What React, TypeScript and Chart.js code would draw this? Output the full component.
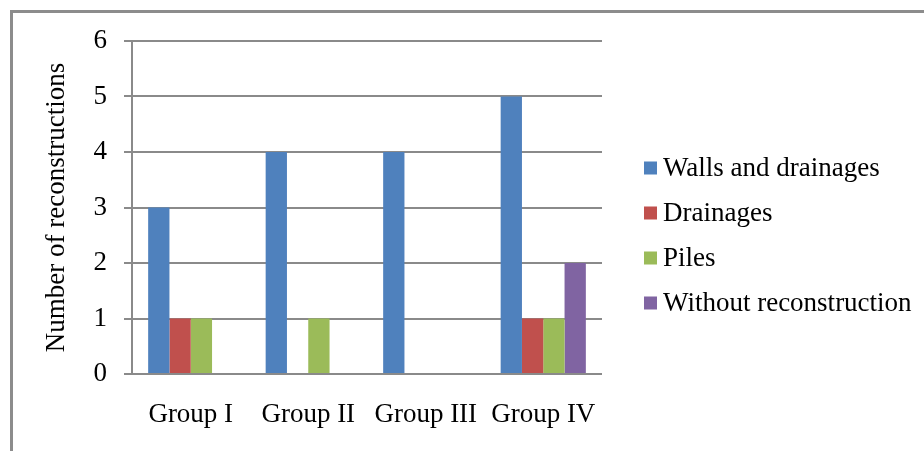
import React, { useEffect, useRef } from "react";
import { Chart, registerables } from "chart.js";

Chart.register(...registerables);

const categories = ["Group I", "Group II", "Group III", "Group IV"];
const seriesNames = ["Walls and drainages", "Drainages", "Piles", "Without reconstruction"];
const wallsAndDrainages = [3, 4, 4, 5];
const drainages = [1, 0, 0, 1];
const piles = [1, 1, 0, 1];
const withoutReconstruction = [0, 0, 0, 2];
const seriesColors = ["#4F81BD", "#C0504D", "#9BBB59", "#8064A2"];
const yTicks = [0, 1, 2, 3, 4, 5, 6];

const FONT = "'Liberation Serif', 'Times New Roman', serif";
const FS = 27;

const framePlugin = {
  id: "frame",
  beforeDraw(chart: any) {
    const ctx = chart.ctx;
    ctx.save();
    ctx.fillStyle = "#ffffff";
    ctx.fillRect(0, 0, chart.width, chart.height);
    ctx.fillStyle = "#8c8c8c";
    ctx.fillRect(10, 10, 3, chart.height - 10);
    ctx.fillRect(10, 10, chart.width - 10, 3);
    ctx.restore();
  },
};

const legendPlugin = {
  id: "customLegend",
  afterDraw(chart: any) {
    const ctx = chart.ctx;
    ctx.save();
    ctx.font = `${FS}px ${FONT}`;
    ctx.textBaseline = "middle";
    ctx.textAlign = "left";
    chart.data.datasets.forEach((ds: any, i: number) => {
      const y = 168 + i * 45;
      ctx.fillStyle = ds.backgroundColor;
      ctx.fillRect(644, y - 6.5, 13, 13);
      ctx.fillStyle = "#000000";
      ctx.fillText(ds.label, 663, y + 1);
    });
    ctx.restore();
  },
};

export default function App() {
  const ref = useRef<HTMLCanvasElement>(null);
  useEffect(() => {
    document.body.style.margin = "0";
    const series = [wallsAndDrainages, drainages, piles, withoutReconstruction];
    const chart = new Chart(ref.current!, {
      type: "bar",
      data: {
        labels: categories,
        datasets: series.map((d, i) => ({
          label: seriesNames[i],
          data: d,
          backgroundColor: seriesColors[i],
          borderWidth: 0,
        })),
      },
      options: {
        animation: false,
        responsive: false,
        devicePixelRatio: 1,
        layout: { padding: { top: 41, right: 322, bottom: 0, left: 0 } },
        plugins: { legend: { display: false }, tooltip: { enabled: false } },
        datasets: { bar: { categoryPercentage: 0.725, barPercentage: 1 } },
        scales: {
          x: {
            grid: { display: false, drawTicks: false },
            border: { display: false },
            ticks: { color: "#000", font: { family: FONT, size: FS }, padding: 25, maxRotation: 0 },
            afterFit: (s: any) => {
              s.height = 77;
            },
          },
          y: {
            min: 0,
            max: 6,
            afterBuildTicks: (s: any) => {
              s.ticks = yTicks.map((v) => ({ value: v }));
            },
            grid: { color: "#8a8a8a", lineWidth: 2, tickLength: 8, drawTicks: true },
            border: { display: true, color: "#8a8a8a", width: 2 },
            ticks: { color: "#000", font: { family: FONT, size: FS }, padding: 17 },
            title: {
              display: true,
              text: "Number of reconstructions",
              color: "#000",
              font: { family: FONT, size: FS },
              padding: { top: 41, bottom: 0 },
            },
            afterFit: (s: any) => {
              s.width = 132;
            },
          },
        },
      },
      plugins: [framePlugin, legendPlugin],
    });
    return () => chart.destroy();
  }, []);
  return (
    <div style={{ position: "absolute", left: 0, top: 0, width: 924, height: 451 }}>
      <canvas ref={ref} width={924} height={451} style={{ width: 924, height: 451 }} />
    </div>
  );
}
